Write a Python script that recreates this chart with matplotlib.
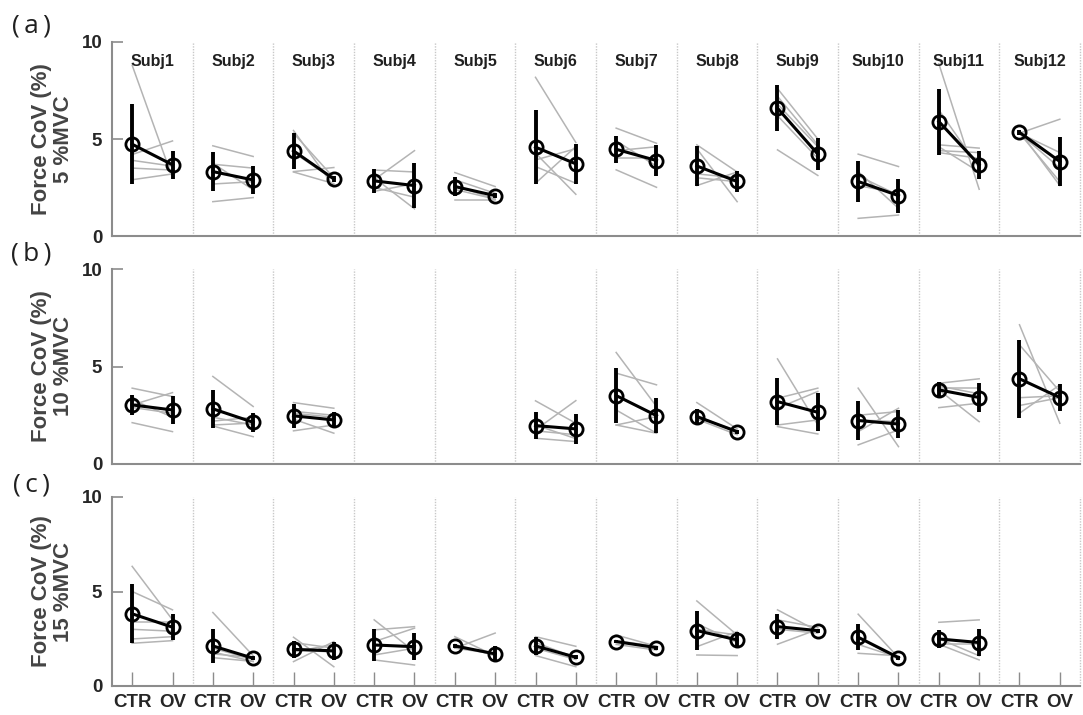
import numpy as np
import matplotlib
matplotlib.use("Agg")
import matplotlib.pyplot as plt

subjects = [f"Subj{i}" for i in range(1, 13)]
conditions = ["CTR", "OV"]
panel_tags = ["(\u2009a\u2009)", "(\u2009b\u2009)", "(\u2009c\u2009)"]
mvc_labels = ["5 %MVC", "10 %MVC", "15 %MVC"]
nan = np.nan

# ---- Row (a) 5 %MVC ----
a_ctr_mean = [4.73, 3.32, 4.39, 2.84, 2.55, 4.58, 4.47, 3.61, 6.59, 2.81, 5.90, 5.34]
a_ctr_sd = [2.05, 1.00, 0.92, 0.62, 0.48, 1.90, 0.70, 1.03, 1.18, 1.08, 1.70, 0.12]
a_ov_mean = [3.67, 2.89, 2.94, 2.60, 2.08, 3.72, 3.89, 2.81, 4.22, 2.08, 3.67, 3.84]
a_ov_sd = [0.73, 0.74, 0.17, 1.18, 0.14, 1.03, 0.82, 0.52, 0.82, 0.87, 0.73, 1.25]
a_ind_ctr = [[8.8, 4.2, 3.9, 3.5, 2.9], [4.65, 3.7, 3.75, 2.68, 1.77], [5.44, 5.3, 3.32, 3.3, 4.3],
             [2.9, 3.4, 3.0, 2.5, 2.3], [3.27, 2.9, 2.4, 1.85, 2.6], [8.18, 2.72, 3.92, 4.27, 3.58],
             [5.56, 3.41, 4.4, 4.9, 4.0], [4.7, 4.5, 2.6, 3.0, 3.2], [4.44, 7.6, 7.2, 6.8, 6.2],
             [4.22, 0.91, 3.32, 2.6, 3.1], [8.88, 4.7, 4.4, 4.6, 6.5, 4.3], [5.3, 5.3, 5.3, 5.4, 5.3]]
a_ind_ov = [[3.0, 4.9, 3.6, 3.4, 3.2], [4.1, 3.5, 2.38, 2.8, 1.98], [2.55, 3.0, 3.53, 2.7, 2.9],
            [4.4, 3.3, 1.4, 2.0, 2.7], [2.55, 2.2, 1.9, 1.85, 1.9], [4.82, 4.61, 4.5, 2.15, 2.72],
            [4.78, 2.51, 4.6, 3.6, 4.0], [3.3, 1.77, 3.3, 2.8, 3.0], [3.12, 5.0, 4.7, 4.6, 4.0],
            [3.58, 1.08, 1.43, 2.2, 2.1], [2.41, 4.53, 4.3, 3.3, 3.5, 4.0], [6.02, 4.3, 2.8, 2.6, 3.5]]

# ---- Row (b) 10 %MVC ----
b_ctr_mean = [3.03, 2.83, 2.47, nan, nan, 1.97, 3.51, 2.43, 3.20, 2.23, 3.80, 4.37]
b_ctr_sd = [0.53, 0.97, 0.62, nan, nan, 0.68, 1.43, 0.38, 1.22, 0.98, 0.42, 1.99]
b_ov_mean = [2.77, 2.14, 2.26, nan, nan, 1.80, 2.48, 1.66, 2.65, 2.05, 3.41, 3.41]
b_ov_sd = [0.70, 0.50, 0.41, nan, nan, 0.75, 0.90, 0.10, 0.98, 0.70, 0.75, 0.67]
b_ind_ctr = [[3.89, 2.12, 3.03, 3.3, 2.9], [4.49, 1.95, 2.0, 2.2, 2.4], [3.15, 2.7, 1.7, 2.3, 2.6],
             [], [], [3.24, 1.75, 1.32, 1.7, 2.0],
             [5.72, 4.66, 2.77, 2.0, 2.0], [3.15, 2.5, 2.3, 2.4], [5.39, 3.37, 2.0, 1.92, 2.86],
             [3.89, 0.98, 1.66, 2.26, 2.5], [4.14, 3.9, 3.8, 2.89, 4.0], [7.14, 6.11, 2.6, 3.0, 3.4]]
b_ind_ov = [[3.46, 1.66, 3.66, 2.4, 2.6], [2.95, 1.4, 2.1, 2.4, 2.0], [2.86, 2.5, 2.0, 1.58, 2.4],
            [], [], [2.09, 3.25, 1.15, 1.5, 1.3],
            [2.95, 4.06, 1.58, 2.43, 1.58], [1.8, 1.6, 1.5, 1.7], [2.0, 3.89, 2.26, 1.54, 3.72],
            [0.89, 1.75, 2.86, 2.17, 2.69], [4.37, 3.9, 2.17, 3.12, 3.6], [2.09, 3.72, 4.06, 3.4, 3.5]]

# ---- Row (c) 15 %MVC ----
c_ctr_mean = [3.82, 2.12, 1.94, 2.17, 2.12, 2.12, 2.35, 2.93, 3.14, 2.58, 2.49, nan]
c_ctr_sd = [1.57, 0.91, 0.44, 0.84, 0.10, 0.49, 0.10, 1.03, 0.66, 0.70, 0.46, nan]
c_ov_mean = [3.11, 1.47, 1.86, 2.08, 1.70, 1.52, 2.03, 2.44, 2.93, 1.50, 2.30, nan]
c_ov_sd = [0.68, 0.10, 0.49, 0.73, 0.44, 0.10, 0.10, 0.44, 0.10, 0.10, 0.71, nan]
c_ind_ctr = [[6.33, 5.0, 3.0, 2.49, 2.26, 3.4], [3.89, 2.0, 1.7, 1.5, 1.8], [2.58, 1.29, 1.8, 2.3, 1.9],
             [3.5, 2.97, 1.38, 1.64, 2.35], [2.61, 2.0, 2.2, 2.0], [2.61, 2.3, 1.61, 2.0],
             [2.7, 2.2, 2.4], [4.5, 1.64, 2.08, 3.3, 3.0], [4.03, 2.21, 3.5, 3.0],
             [3.8, 1.73, 2.2, 2.6], [3.37, 2.21, 2.5, 2.2], []]
c_ind_ov = [[3.5, 4.03, 2.9, 2.61, 2.4, 3.4], [1.6, 1.4, 1.5, 1.3, 1.3], [1.02, 2.35, 2.2, 2.0, 1.8],
            [1.82, 3.14, 1.11, 2.0, 3.06], [1.6, 2.8, 1.6, 1.7], [2.1, 1.5, 1.02, 1.4],
            [2.1, 1.9, 2.1], [2.7, 1.61, 2.88, 2.3, 2.7], [2.9, 3.0, 3.1, 2.8],
            [1.5, 1.6, 1.5, 1.4], [3.5, 1.38, 1.6, 2.2], []]

rows = [
    (a_ctr_mean, a_ctr_sd, a_ov_mean, a_ov_sd, a_ind_ctr, a_ind_ov),
    (b_ctr_mean, b_ctr_sd, b_ov_mean, b_ov_sd, b_ind_ctr, b_ind_ov),
    (c_ctr_mean, c_ctr_sd, c_ov_mean, c_ov_sd, c_ind_ctr, c_ind_ov),
]

FONT = "Liberation Sans"
TXT = "#262626"
AXC = "#8c8c8c"

fig = plt.figure(figsize=(10.83, 7.15), dpi=100)
left, width = 112 / 1083, 968 / 1083
row_px = [(42, 236), (269, 464), (497, 686)]
tag_px = [(31, 26), (31, 254), (31, 485)]

ncol = len(subjects)
for r, (cm, cs, om, osd, ic, io) in enumerate(rows):
    top, bot = row_px[r]
    ax = fig.add_axes([left, 1 - bot / 715, width, (bot - top) / 715])
    ax.set_xlim(0, 4 * ncol)
    ax.set_ylim(0, 10)
    for s in range(ncol):
        xc, xo = 4 * s + 1, 4 * s + 3
        for vc, vo in zip(ic[s], io[s]):
            ax.plot([xc, xo], [vc, vo], color="#b4b4b4", lw=1.1, zorder=2)
        if not np.isnan(cm[s]):
            ax.plot([xc, xc], [cm[s] - cs[s], cm[s] + cs[s]], color="black", lw=2.8,
                    solid_capstyle="butt", zorder=3)
            ax.plot([xo, xo], [om[s] - osd[s], om[s] + osd[s]], color="black", lw=2.8,
                    solid_capstyle="butt", zorder=3)
            ax.plot([xc, xo], [cm[s], om[s]], color="black", lw=2.2, marker="o",
                    markersize=9.5, markerfacecolor="none", markeredgecolor="black",
                    markeredgewidth=2.0, zorder=4)
        ax.axvline(4 * s + 4, color="#c8c8c8", lw=1.0, ls=(0, (1, 1)), zorder=1, clip_on=False)
        if r == 0:
            ax.text(4 * s + 2, 9.0, subjects[s], ha="center", va="center", fontsize=11.5,
                    fontweight="bold", color="#202020", family=FONT)

    for sp in ["top", "right"]:
        ax.spines[sp].set_visible(False)
    for sp in ["left", "bottom"]:
        ax.spines[sp].set_color(AXC)
        ax.spines[sp].set_linewidth(1.5)
    ax.set_yticks([0, 5, 10])
    ax.set_yticklabels(["0", "5", "10"], fontsize=13.5, fontweight="bold", color=TXT, family=FONT)
    ax.tick_params(axis="y", direction="in", length=8, width=1.2, color=AXC, pad=7)
    if r == 2:
        xt = []
        xl = []
        for s in range(ncol):
            xt += [4 * s + 1, 4 * s + 3]
            xl += conditions
        ax.set_xticks(xt)
        ax.set_xticklabels(xl, fontsize=13.5, fontweight="bold", color=TXT, family=FONT)
        ax.tick_params(axis="x", direction="in", length=10, width=1.0, color=AXC, pad=6)
    else:
        ax.set_xticks([])
    ax.set_ylabel("Force CoV (%)\n" + mvc_labels[r], fontsize=16, fontweight="bold",
                  color="#444444", family=FONT, linespacing=1.1)
    ax.yaxis.set_label_coords(-0.039, 0.5)
    fig.text(tag_px[r][0] / 1083, 1 - tag_px[r][1] / 715, panel_tags[r], ha="center", va="center",
             fontsize=19, color="#202020", family=["Open Sans", "DejaVu Sans"])

fig.savefig("out.png", dpi=100)
